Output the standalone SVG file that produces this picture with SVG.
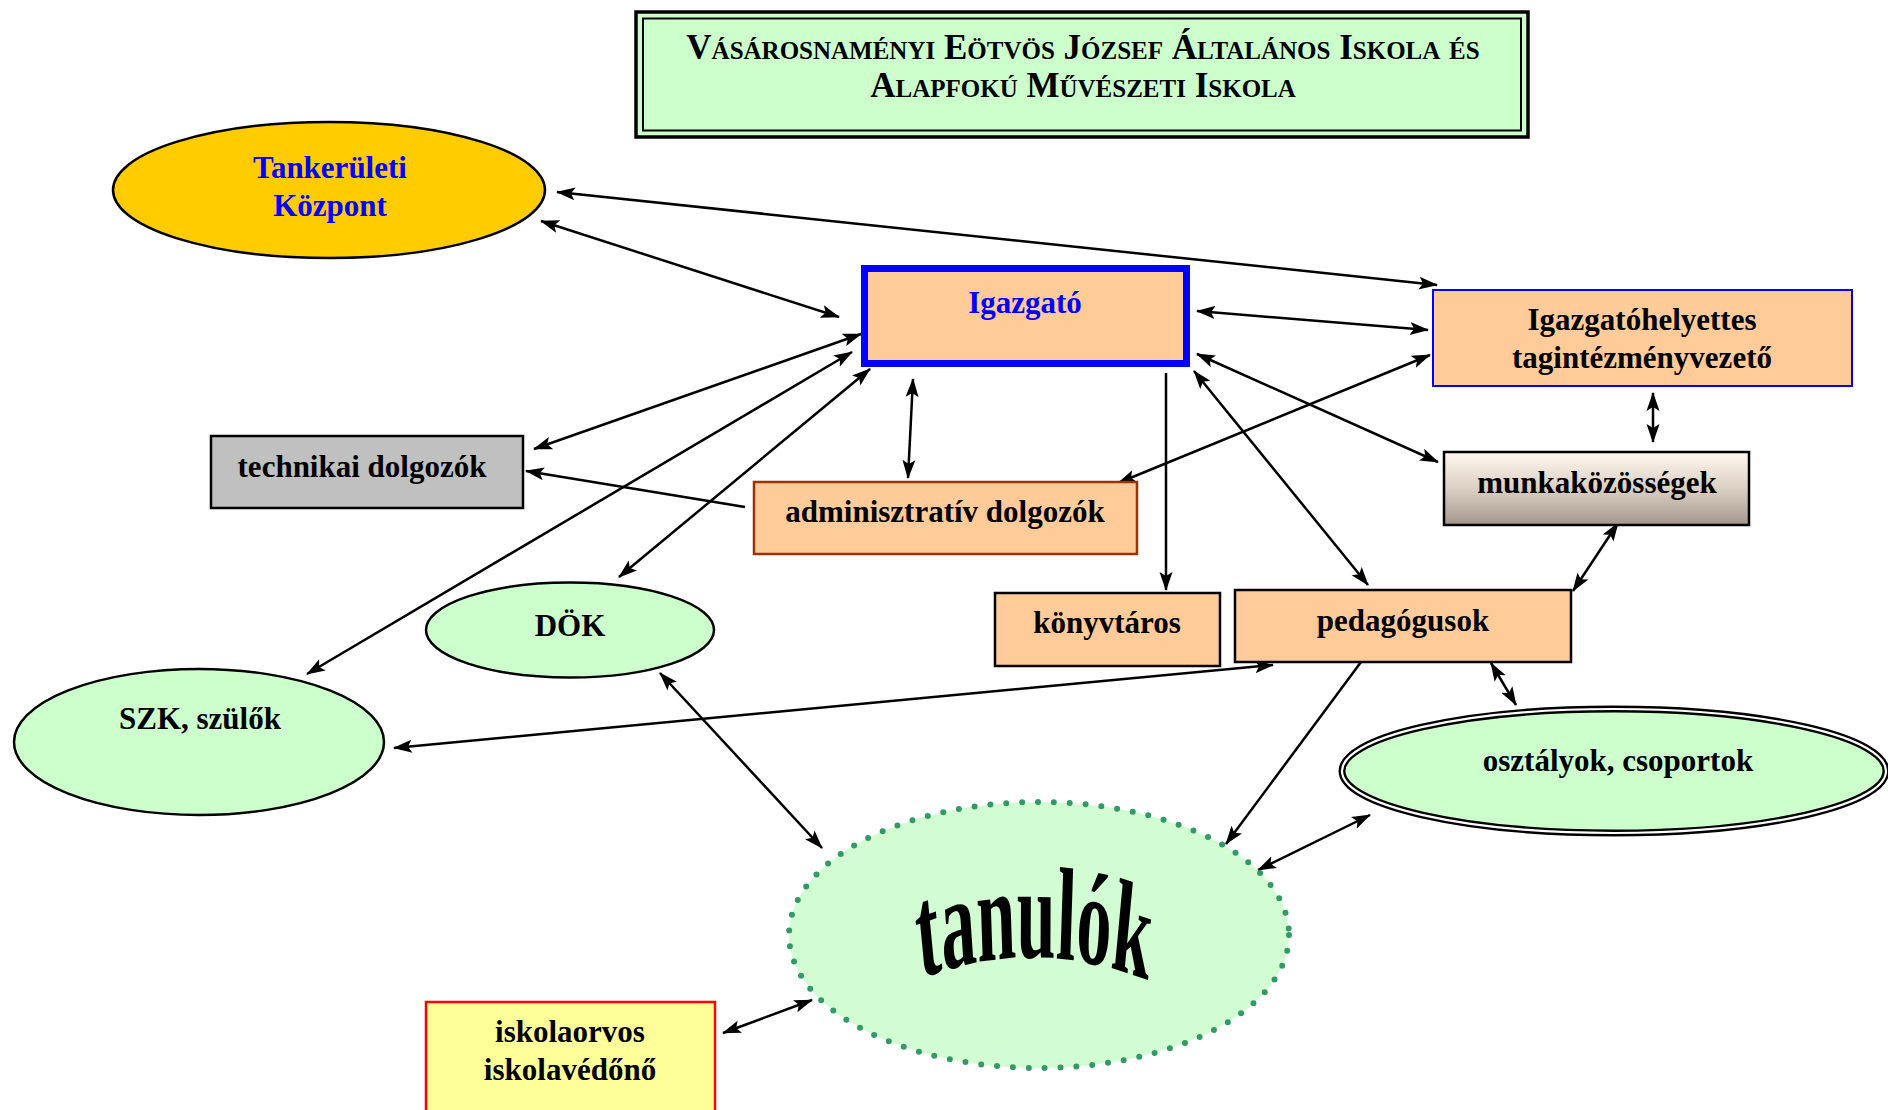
<svg xmlns="http://www.w3.org/2000/svg" width="1888" height="1110" viewBox="0 0 1888 1110">
<defs>
<marker id="ah" markerUnits="userSpaceOnUse" markerWidth="20" markerHeight="14" refX="18" refY="7" orient="auto-start-reverse" viewBox="0 0 20 14">
<path d="M0,0.5 L19,7 L0,13.5 L4,7 z" fill="#000"/>
</marker>
<linearGradient id="mg" x1="0" y1="0" x2="0" y2="1">
<stop offset="0" stop-color="#FFF8EF"/>
<stop offset="0.5" stop-color="#DCCFC3"/>
<stop offset="1" stop-color="#A3968A"/>
</linearGradient>
<path id="arc" d="M -235 983 Q 0 931 235 985"/>
</defs>
<style>
text{font-family:"Liberation Serif","Times New Roman",serif;font-weight:bold;font-size:31px;fill:#000;text-anchor:middle}
.blue{fill:#0000FF}
.ttl{font-variant:small-caps;font-size:35px}
.box{fill:#FFCC99;stroke:#000;stroke-width:2.5}
.oval{fill:#CCFFCC;stroke:#000;stroke-width:2.5}
.c line{stroke:#000;stroke-width:2.5;fill:none}
.b{marker-start:url(#ah);marker-end:url(#ah)}
.e{marker-end:url(#ah)}
</style>
<rect width="1888" height="1110" fill="#fff"/>

<g id="title">
<rect x="636" y="12" width="892" height="125" fill="#CCFFCC" stroke="#000" stroke-width="3.5"/>
<rect x="643" y="18.5" width="878" height="112" fill="none" stroke="#000" stroke-width="2"/>
<text class="ttl" x="1083" y="59">Vásárosnaményi Eötvös József Általános Iskola és</text>
<text class="ttl" x="1083" y="97">Alapfokú Művészeti Iskola</text>
</g>

<g class="c">
<line class="b" x1="557" y1="192" x2="1437" y2="285"/>
<line class="b" x1="541" y1="221" x2="839" y2="317"/>
<line class="b" x1="1197" y1="311" x2="1428" y2="330"/>
<line class="b" x1="1197" y1="354" x2="1438" y2="462"/>
<line class="b" x1="1430" y1="355" x2="1118" y2="483"/>
<line class="e" x1="1166" y1="373" x2="1166" y2="590"/>
<line class="b" x1="913" y1="379" x2="908" y2="478"/>
<line class="b" x1="1194" y1="371" x2="1368" y2="585"/>
<line class="b" x1="861" y1="334" x2="534" y2="449"/>
<line class="e" x1="745" y1="507" x2="526" y2="471"/>
<line class="b" x1="852" y1="352" x2="307" y2="674"/>
<line class="b" x1="870" y1="369" x2="619" y2="577"/>
<line class="b" x1="1573" y1="591" x2="1618" y2="523"/>
<line class="b" x1="1273" y1="665" x2="394" y2="748"/>
<line class="e" x1="1361" y1="662" x2="1226" y2="844"/>
<line class="b" x1="1491" y1="663" x2="1516" y2="705"/>
<line class="b" x1="1370" y1="815" x2="1258" y2="870"/>
<line class="b" x1="660" y1="673" x2="822" y2="848"/>
<line class="b" x1="723" y1="1033" x2="812" y2="1000"/>
<line class="b" x1="1653" y1="393" x2="1653" y2="442"/>
</g>

<g id="tankeruleti">
<ellipse cx="329" cy="190" rx="216" ry="68" fill="#FFCC00" stroke="#000" stroke-width="2.5"/>
<text class="blue" x="330" y="178">Tankerületi</text>
<text class="blue" x="330" y="216">Központ</text>
</g>

<g id="igazgato">
<rect x="864.5" y="268.5" width="322" height="95" fill="#FFCC99" stroke="#0000FF" stroke-width="7"/>
<text class="blue" x="1025" y="313">Igazgató</text>
</g>

<g id="igazgatohelyettes">
<rect x="1433" y="290" width="419" height="96" fill="#FFCC99" stroke="#0000FF" stroke-width="2"/>
<text x="1642" y="330">Igazgatóhelyettes</text>
<text x="1642" y="368">tagintézményvezető</text>
</g>

<g id="munkakozossegek">
<rect x="1444" y="452" width="305" height="73" fill="url(#mg)" stroke="#000" stroke-width="2.5"/>
<text x="1597" y="493">munkaközösségek</text>
</g>

<g id="technikai">
<rect x="211" y="436" width="312" height="72" fill="#C0C0C0" stroke="#000" stroke-width="2.5"/>
<text x="362" y="477">technikai dolgozók</text>
</g>

<g id="adminisztrativ">
<rect x="754" y="482" width="383" height="72" fill="#FFCC99" stroke="#993300" stroke-width="2.5"/>
<text x="945" y="522">adminisztratív dolgozók</text>
</g>

<g id="konyvtaros">
<rect x="995" y="593" width="225" height="73" class="box"/>
<text x="1107" y="633">könyvtáros</text>
</g>

<g id="pedagogusok">
<rect x="1235" y="590" width="336" height="72" class="box"/>
<text x="1403" y="631">pedagógusok</text>
</g>

<g id="dok">
<ellipse cx="570" cy="630" rx="144" ry="47.5" class="oval"/>
<text x="570" y="636">DÖK</text>
</g>

<g id="szk">
<ellipse cx="199" cy="742" rx="185" ry="73" class="oval"/>
<text x="200" y="729">SZK, szülők</text>
</g>

<g id="osztalyok">
<ellipse cx="1614" cy="771" rx="272" ry="62" fill="#CCFFCC" stroke="#000" stroke-width="7"/>
<ellipse cx="1614" cy="771" rx="272" ry="62" fill="none" stroke="#fff" stroke-width="2.2"/>
<text x="1618" y="771">osztályok, csoportok</text>
</g>

<g id="tanulok">
<ellipse cx="1039" cy="935" rx="250" ry="133" fill="#D2FCD2" stroke="#339966" stroke-width="6" stroke-linecap="round" stroke-dasharray="0 15.9"/>
<g transform="translate(1034,0) scale(0.53,1)">
<text style="font-size:132px;font-weight:bold"><textPath href="#arc" startOffset="50%">tanulók</textPath></text>
</g>
</g>

<g id="iskolaorvos">
<rect x="426" y="1002" width="289" height="120" fill="#FFFF99" stroke="#FF0000" stroke-width="2.5"/>
<text x="570" y="1042">iskolaorvos</text>
<text x="570" y="1080">iskolavédőnő</text>
</g>
</svg>
